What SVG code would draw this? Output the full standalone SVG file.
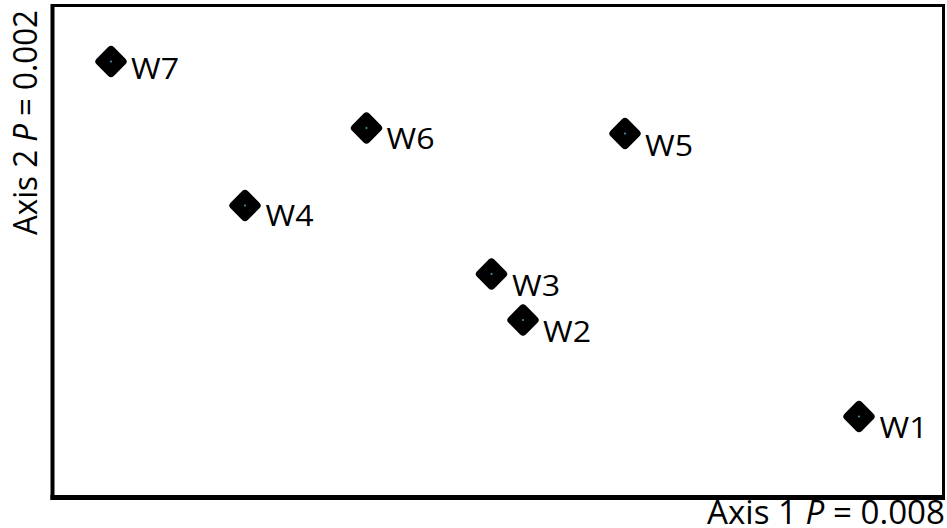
<svg xmlns="http://www.w3.org/2000/svg" width="947" height="528" viewBox="0 0 947 528">
<style>
.lbl{font-family:"Open Sans","Liberation Sans",sans-serif;font-size:29px;fill:#000}
.ax{font-family:"Open Sans","Liberation Sans",sans-serif;font-size:32px;fill:#000}
.dot{fill:#3fa0c0}
</style>
<defs>
<g id="mk"><rect x="-12.2" y="-12.2" width="24.4" height="24.4" rx="4" transform="rotate(45)" fill="#000"/><circle r="1" class="dot"/></g>
</defs>
<rect width="947" height="528" fill="#fff"/>
<g id="frame">
<rect x="52.5" y="5.5" width="891" height="492" fill="none" stroke="#000" stroke-width="3"/>
<line x1="52.5" y1="4" x2="52.5" y2="500" stroke="#000" stroke-width="4"/>
<line x1="50.5" y1="497.5" x2="945" y2="497.5" stroke="#000" stroke-width="5"/>
</g>
<g id="axes">
<text class="ax" x="945" y="524" text-anchor="end" textLength="238" lengthAdjust="spacingAndGlyphs">Axis 1 <tspan font-style="italic">P</tspan> = 0.008</text>
<text class="ax" transform="translate(37,235) rotate(-90)" textLength="225" lengthAdjust="spacingAndGlyphs">Axis 2 <tspan font-style="italic">P</tspan> = 0.002</text>
</g>
<g id="connectors"></g>
<g id="W7"><use href="#mk" x="111" y="61.5"/><text class="lbl" x="131" y="79" textLength="48" lengthAdjust="spacingAndGlyphs">W7</text></g>
<g id="W6"><use href="#mk" x="366.5" y="128"/><text class="lbl" x="386.5" y="149" textLength="48" lengthAdjust="spacingAndGlyphs">W6</text></g>
<g id="W5"><use href="#mk" x="625" y="133.5"/><text class="lbl" x="645" y="155.5" textLength="48" lengthAdjust="spacingAndGlyphs">W5</text></g>
<g id="W4"><use href="#mk" x="245" y="205.5"/><text class="lbl" x="265.5" y="225.5" textLength="48" lengthAdjust="spacingAndGlyphs">W4</text></g>
<g id="W3"><use href="#mk" x="491.5" y="274"/><text class="lbl" x="512" y="295.5" textLength="48" lengthAdjust="spacingAndGlyphs">W3</text></g>
<g id="W2"><use href="#mk" x="523" y="320"/><text class="lbl" x="543" y="342" textLength="48" lengthAdjust="spacingAndGlyphs">W2</text></g>
<g id="W1"><use href="#mk" x="859" y="416.5"/><text class="lbl" x="879.5" y="438" textLength="48" lengthAdjust="spacingAndGlyphs">W1</text></g>
</svg>
